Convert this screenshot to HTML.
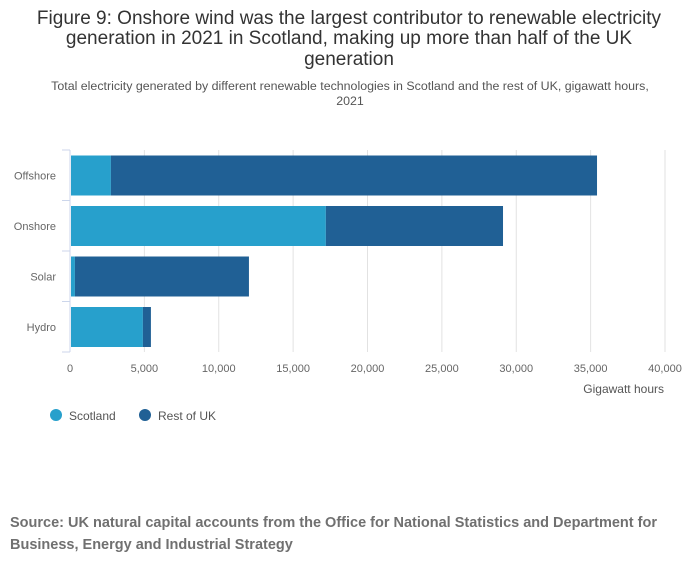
<!DOCTYPE html>
<html><head><meta charset="utf-8"><style>
body{margin:0;background:#fff;font-family:"Liberation Sans","DejaVu Sans",sans-serif;}
svg text{font-family:"Liberation Sans","DejaVu Sans",sans-serif;}
</style></head><body>
<svg id="c" width="700" height="574" xmlns="http://www.w3.org/2000/svg">
<text x="349" y="24" text-anchor="middle" font-size="19" fill="#333">Figure 9: Onshore wind was the largest contributor to renewable electricity</text>
<text x="349" y="44" text-anchor="middle" font-size="19" fill="#333">generation in 2021 in Scotland, making up more than half of the UK</text>
<text x="349" y="65" text-anchor="middle" font-size="19" fill="#333">generation</text>
<text x="350" y="90" text-anchor="middle" font-size="12.4" fill="#555">Total electricity generated by different renewable technologies in Scotland and the rest of UK, gigawatt hours,</text>
<text x="350" y="105" text-anchor="middle" font-size="12.4" fill="#555">2021</text>
<g id="grid"></g><g id="bars"></g><g id="axes"></g>
<circle cx="56" cy="415" r="6" fill="#27a0cc"/>
<text x="69" y="420" font-size="12" fill="#555">Scotland</text>
<circle cx="145" cy="415" r="6" fill="#206095"/>
<text x="158" y="420" font-size="12" fill="#555">Rest of UK</text>
<text x="10" y="527" font-size="14.5" font-weight="bold" fill="#707070">Source: UK natural capital accounts from the Office for National Statistics and Department for</text>
<text x="10" y="549" font-size="14.5" font-weight="bold" fill="#707070">Business, Energy and Industrial Strategy</text>
</svg>
<script>
const categories=["Offshore","Onshore","Solar","Hydro"];
const scotland=[2750,17200,330,4900];
const restOfUK=[32680,11910,11700,540];
const ticks=[0,5000,10000,15000,20000,25000,30000,35000,40000];
const NS="http://www.w3.org/2000/svg";
const x0=70,x1=665,xmax=40000,yTop=150,band=50.5;
const X=v=>x0+(x1-x0)*v/xmax;
const Y=i=>yTop+i*band;
function mk(t,a,p){const e=document.createElementNS(NS,t);for(const k in a)e.setAttribute(k,a[k]);document.getElementById(p).appendChild(e);return e;}
ticks.forEach(t=>{
 if(t>0){const g=mk('line',{x1:X(t),x2:X(t),y1:yTop,y2:yTop+4*band,stroke:'#e2e2e2'},'grid');
 
 }
 const l=mk('text',{x:X(t),y:372,'text-anchor':'middle','font-size':11,fill:'#666'},'axes');l.textContent=t.toLocaleString('en-US');
 
 
});
const xt=mk('text',{x:664,y:393,'text-anchor':'end','font-size':12,fill:'#555'},'axes');xt.textContent='Gigawatt hours';


const ax=mk('line',{x1:x0,x2:x0,y1:yTop,y2:yTop+4*band,stroke:'#ccd6eb'},'axes');


for(let i=0;i<=4;i++){const t=mk('line',{x1:62,x2:x0,y1:Y(i),y2:Y(i),stroke:'#ccd6eb'},'axes');
 
 }
categories.forEach((c,i)=>{
 const yb=Y(i)+5.5,h=40;
 const s=mk('rect',{x:X(0)+1,y:yb,width:X(scotland[i])-X(0)-1,height:h,fill:'#27a0cc'},'bars');
 
 
 const r=mk('rect',{x:X(scotland[i]),y:yb,width:X(scotland[i]+restOfUK[i])-X(scotland[i]),height:h,fill:'#206095'},'bars');
 
 
 const l=mk('text',{x:56,y:Y(i)+band/2+4,'text-anchor':'end','font-size':11,fill:'#666'},'axes');l.textContent=c;
 
 
});
</script>
</body></html>
